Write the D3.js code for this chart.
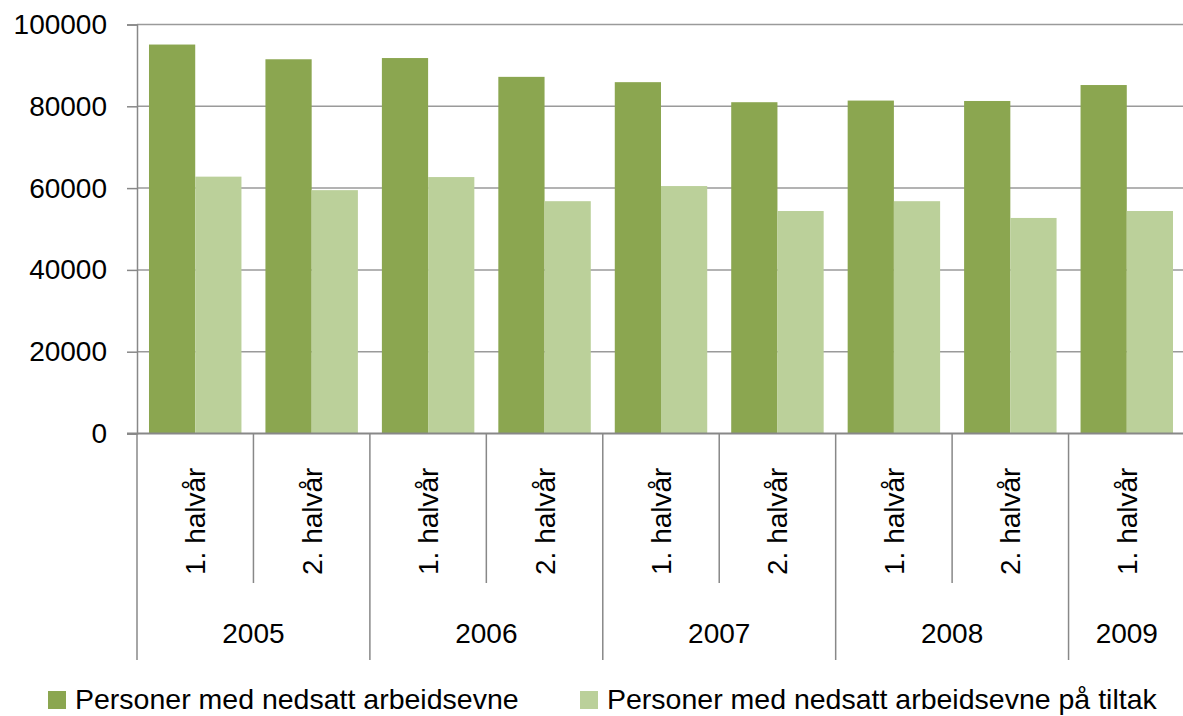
<!DOCTYPE html>
<html>
<head>
<meta charset="utf-8">
<script src="https://cdn.jsdelivr.net/npm/d3@7"></script>
<style>
  body { margin: 0; background: #fff; }
  svg { font-family: "Liberation Sans", Arial, sans-serif; }
</style>
</head>
<body>
<script>
// data
var halves = ["1. halvår", "2. halvår", "1. halvår", "2. halvår", "1. halvår", "2. halvår", "1. halvår", "2. halvår", "1. halvår"];
var years = ["2005", "2005", "2006", "2006", "2007", "2007", "2008", "2008", "2009"];
var seriesNames = ["Personer med nedsatt arbeidsevne", "Personer med nedsatt arbeidsevne på tiltak"];
var nedsatt = [95100, 91500, 91800, 87200, 85900, 81000, 81400, 81300, 85200];
var tiltak = [62800, 59500, 62700, 56800, 60500, 54400, 56800, 52700, 54400];
var yTicks = [0, 20000, 40000, 60000, 80000, 100000];

var colors = ["#8BA650", "#BBD09A"];
var w = 1183, h = 716;
var plotLeft = 137, plotRight = 1185, plotTop = 24.5, plotBottom = 433.5;

var svg = d3.select("body").append("svg")
  .attr("width", w)
  .attr("height", h);

var idx = d3.range(halves.length);

var x = d3.scaleBand()
  .domain(idx)
  .range([plotLeft, plotRight])
  .paddingInner(0.206)
  .paddingOuter(0.103);

var step = (plotRight - plotLeft) / idx.length;

var xSub = d3.scaleBand()
  .domain([0, 1])
  .range([0, x.bandwidth()]);

var y = d3.scaleLinear()
  .domain([0, 100000])
  .range([plotBottom, plotTop]);

// gridlines
svg.append("g")
  .selectAll("line")
  .data(yTicks.slice(1))
  .enter()
  .append("line")
  .attr("x1", plotLeft)
  .attr("x2", plotRight)
  .attr("y1", function(d) { return y(d); })
  .attr("y2", function(d) { return y(d); })
  .attr("stroke", "#9a9a9a")
  .attr("stroke-width", 1.5);

// bars
var cats = svg.selectAll("g.cat")
  .data(idx)
  .enter()
  .append("g")
  .attr("class", "cat")
  .attr("transform", function(i) { return "translate(" + x(i) + ",0)"; });

[nedsatt, tiltak].forEach(function(series, s) {
  cats.append("rect")
    .attr("x", xSub(s))
    .attr("width", xSub.bandwidth())
    .attr("y", function(i) { return y(series[i]); })
    .attr("height", function(i) { return y(0) - y(series[i]); })
    .attr("fill", colors[s]);
});

// y axis
var yAxis = d3.axisLeft(y)
  .tickValues(yTicks)
  .tickFormat(d3.format("d"))
  .tickSize(10)
  .tickPadding(20);

var gy = svg.append("g")
  .attr("transform", "translate(" + plotLeft + ",0)")
  .call(yAxis);
gy.select(".domain").attr("stroke", "#888").attr("stroke-width", 1.5);
gy.selectAll(".tick line").attr("stroke", "#888").attr("stroke-width", 1.5);
gy.selectAll(".tick text")
  .attr("font-size", 28)
  .attr("fill", "#000")
  .attr("font-family", "Liberation Sans, Arial, sans-serif");

// x axis baseline
svg.append("line")
  .attr("x1", plotLeft - 10).attr("x2", plotRight)
  .attr("y1", y(0)).attr("y2", y(0))
  .attr("stroke", "#888").attr("stroke-width", 2);

// category separators
var catEnd = 583, yearEnd = 660;
var bounds = d3.range(idx.length + 1);
svg.append("g")
  .selectAll("line")
  .data(bounds)
  .enter()
  .append("line")
  .attr("x1", function(b) { return plotLeft + b * step; })
  .attr("x2", function(b) { return plotLeft + b * step; })
  .attr("y1", y(0))
  .attr("y2", function(b) {
    var isYear = b === 0 || b === idx.length || years[b] !== years[b - 1];
    return isYear ? yearEnd : catEnd;
  })
  .attr("stroke", "#888")
  .attr("stroke-width", 1.5);

// half-year labels
svg.append("g")
  .selectAll("text")
  .data(idx)
  .enter()
  .append("text")
  .attr("transform", function(i) {
    return "translate(" + (plotLeft + (i + 0.5) * step + 10) + ",575) rotate(-90)";
  })
  .attr("font-size", 28)
  .text(function(i) { return halves[i]; });

// year labels
var yearGroups = d3.groups(idx, function(i) { return years[i]; });
svg.append("g")
  .selectAll("text")
  .data(yearGroups)
  .enter()
  .append("text")
  .attr("x", function(g) {
    var first = g[1][0], last = g[1][g[1].length - 1];
    return plotLeft + (first + last + 1) / 2 * step;
  })
  .attr("y", 643)
  .attr("text-anchor", "middle")
  .attr("font-size", 28)
  .text(function(g) { return g[0]; });

// legend
var legendX = [48, 580];
var legend = svg.selectAll("g.legend")
  .data(seriesNames)
  .enter()
  .append("g")
  .attr("class", "legend")
  .attr("transform", function(d, i) { return "translate(" + legendX[i] + ",691)"; });
legend.append("rect")
  .attr("width", 18).attr("height", 18)
  .attr("fill", function(d, i) { return colors[i]; });
legend.append("text")
  .attr("x", 27)
  .attr("y", 18)
  .attr("font-size", 28.5)
  .text(function(d) { return d; });
</script>
</body>
</html>
